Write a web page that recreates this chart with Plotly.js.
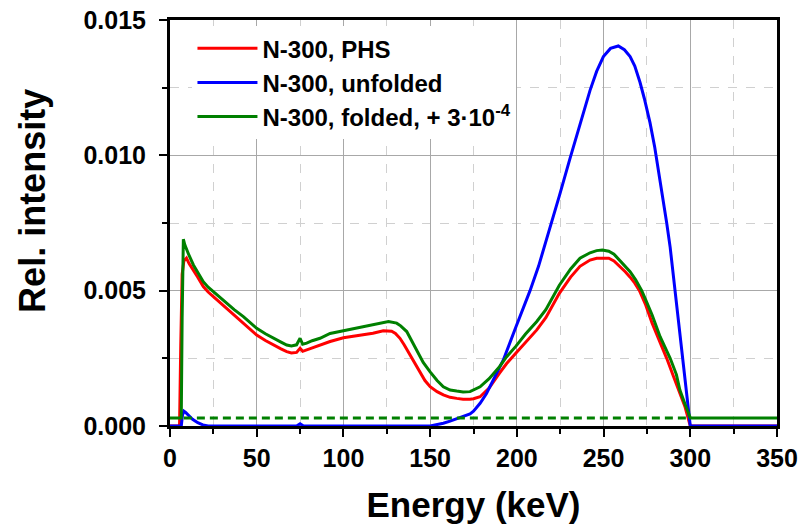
<!DOCTYPE html>
<html>
<head>
<meta charset="utf-8">
<script src="https://cdn.plot.ly/plotly-3.0.1.min.js"></script>
<style>html,body{margin:0;padding:0;background:#fff;}#chart{width:801px;height:531px;}</style>
</head>
<body>
<div id="chart"></div>
<script>
// ---- data ----
const seriesNames = ["N-300, PHS", "N-300, unfolded", "N-300, folded, + 3\u00b710<sup>-4</sup>"];

const phsEnergy = [0, 5.5, 6.2, 7.0, 8.0, 9.5, 11, 13.5, 16, 19.2, 22, 25, 29, 32.7, 37, 42.3, 46, 50, 55, 59.6, 64, 67.3, 70, 73, 75, 76.5, 78.8, 82, 86.5, 92.3, 100, 105, 111.5, 117, 123, 127.8, 130, 132.6, 135, 138.4, 141, 144.2, 147, 150, 154, 157.6, 161.5, 165.3, 169, 173, 175, 178.8, 184, 190, 194, 199.5, 205, 211.5, 216.7, 220, 224.5, 231, 236.4, 242.2, 246, 249.3, 253, 256, 259.5, 262.5, 265.3, 268, 270.7, 274.3, 278, 282.6, 286.4, 290.5, 294, 297, 300, 350];
const phsIntensity = [0, 0, 0.0030, 0.0056, 0.0061, 0.0062, 0.0060, 0.00576, 0.0055, 0.00515, 0.00495, 0.00478, 0.00455, 0.00435, 0.0041, 0.0038, 0.00358, 0.00336, 0.00316, 0.00299, 0.00285, 0.00275, 0.00270, 0.00272, 0.00287, 0.00276, 0.00281, 0.0029, 0.00299, 0.00312, 0.00326, 0.00331, 0.00336, 0.00343, 0.00352, 0.0035, 0.00342, 0.00324, 0.00300, 0.00262, 0.00230, 0.00195, 0.00168, 0.00145, 0.00127, 0.00115, 0.00106, 0.00102, 0.00099, 0.00099, 0.00101, 0.00108, 0.0014, 0.00195, 0.0023, 0.0027, 0.00308, 0.00355, 0.0040, 0.0044, 0.0049, 0.0055, 0.0059, 0.00613, 0.0062, 0.0062, 0.0062, 0.0061, 0.0059, 0.0057, 0.0055, 0.00528, 0.005, 0.00447, 0.0038, 0.0031, 0.0025, 0.0018, 0.00121, 0.0007, 0, 0];

const unfEnergy = [0, 6.5, 7.2, 8, 9, 11, 13, 16, 19, 22, 73, 75, 77, 150, 154, 157.6, 161.5, 165.3, 169, 173, 175, 178.8, 182.5, 186.5, 192.2, 199.5, 203.5, 207.6, 212.5, 217.2, 224.5, 230.7, 234.5, 238.4, 242.2, 246, 249.9, 254, 258.5, 262, 265.3, 268, 271, 273.5, 276.8, 279.5, 282.6, 284.5, 286.4, 288.4, 291.2, 295.7, 299.5, 300, 350];
const unfIntensity = [0, 0, 0.0004, 0.00055, 0.0005, 0.00038, 0.00025, 0.00012, 0.00004, 0, 0, 0.00008, 0, 0, 0.00004, 0.0001, 0.00018, 0.00026, 0.00035, 0.00045, 0.00055, 0.00084, 0.0012, 0.0017, 0.00244, 0.00367, 0.0043, 0.005, 0.0059, 0.0069, 0.0085, 0.0099, 0.0107, 0.01155, 0.0124, 0.0131, 0.01365, 0.01395, 0.01404, 0.0139, 0.01365, 0.0133, 0.0127, 0.0121, 0.0112, 0.0103, 0.0091, 0.0084, 0.0075, 0.0066, 0.005, 0.0025, 0.0002, 0, 0];

const foldEnergy = [0, 6.5, 7.0, 7.7, 8.5, 10, 11, 13.5, 16, 19.2, 22, 25, 29, 32.7, 37, 42.3, 46, 50, 55, 59.6, 64, 67.3, 70, 73, 75, 76.5, 78.8, 82, 86.5, 92.3, 100, 105, 111.5, 117, 123, 126, 130.7, 133, 136.5, 139, 142.3, 146, 150, 154, 157.6, 161.5, 165.3, 169, 173, 178.8, 184, 190, 194, 199.5, 205, 211.5, 216.7, 220, 224.5, 231, 236.4, 242.2, 246, 249.3, 253, 256, 259.5, 262.5, 265.3, 268.5, 272, 274.3, 278, 282.6, 288.4, 292, 294, 297, 300, 350];
const foldIntensity = [0.0003, 0.0003, 0.0040, 0.0069, 0.0067, 0.00645, 0.0063, 0.00595, 0.0057, 0.00533, 0.00513, 0.00496, 0.00473, 0.00453, 0.0043, 0.00404, 0.00382, 0.00361, 0.00341, 0.00324, 0.0031, 0.00299, 0.00296, 0.00300, 0.00324, 0.00302, 0.00306, 0.00315, 0.00324, 0.00342, 0.00352, 0.00358, 0.00367, 0.00374, 0.00382, 0.00386, 0.0038, 0.0037, 0.00349, 0.00320, 0.00281, 0.00235, 0.0020, 0.00168, 0.00145, 0.00133, 0.00129, 0.00126, 0.00127, 0.00145, 0.00175, 0.00219, 0.00255, 0.00295, 0.0034, 0.00386, 0.0043, 0.0047, 0.0052, 0.0058, 0.0062, 0.0064, 0.00648, 0.0065, 0.00646, 0.00635, 0.0061, 0.0059, 0.0057, 0.0054, 0.005, 0.00466, 0.0041, 0.0033, 0.0025, 0.0019, 0.00133, 0.0008, 0.0003, 0.0003];

const offsetEnergy = [8, 300];
const offsetIntensity = [0.0003, 0.0003];

const xTickVals = [0, 50, 100, 150, 200, 250, 300, 350];
const yTickVals = [0, 0.005, 0.010, 0.015];
const xTitle = "Energy (keV)";
const yTitle = "Rel. intensity";

// ---- drawing ----
const FONT = "Arial, 'Liberation Sans', sans-serif";
const colors = ["#ff0000", "#0000ff", "#008000"];

const traces = [
  {x: phsEnergy, y: phsIntensity, name: seriesNames[0], mode: "lines", line: {color: colors[0], width: 3}, cliponaxis: false},
  {x: unfEnergy, y: unfIntensity, name: seriesNames[1], mode: "lines", line: {color: colors[1], width: 3}, cliponaxis: false},
  {x: offsetEnergy, y: offsetIntensity, mode: "lines", showlegend: false, hoverinfo: "skip", line: {color: colors[2], width: 3, dash: "8px,5px"}},
  {x: foldEnergy, y: foldIntensity, name: seriesNames[2], mode: "lines", line: {color: colors[2], width: 3}, cliponaxis: false}
];

const axisCommon = {
  showline: true, linecolor: "#000", linewidth: 3, mirror: true,
  ticks: "outside", ticklen: 8, tickwidth: 2, tickcolor: "#000",
  showgrid: true, gridcolor: "#a8a8a8", gridwidth: 1,
  zeroline: false, layer: "below traces",
  tickfont: {family: FONT, size: 25, color: "#000", weight: "bold"}
};

const layout = {
  width: 801, height: 531,
  margin: {l: 170, r: 24, t: 20, b: 105},
  paper_bgcolor: "#fff", plot_bgcolor: "#fff",
  showlegend: true,
  xaxis: Object.assign({}, axisCommon, {
    range: [0, 350], tickvals: xTickVals, ticklabelstandoff: 0,
    minor: {dtick: 25, tick0: 0, ticks: "outside", ticklen: 5, tickwidth: 2, tickcolor: "#000", showgrid: true, gridcolor: "#d0d0d0", griddash: "dash", gridwidth: 1},
    title: {text: xTitle, font: {family: FONT, size: 35, color: "#000", weight: "bold"}, standoff: 22}
  }),
  yaxis: Object.assign({}, axisCommon, {
    range: [0, 0.015], tickvals: yTickVals, tickformat: ".3f", ticklabelstandoff: 8,
    minor: {dtick: 0.0025, tick0: 0, ticks: "outside", ticklen: 5, tickwidth: 2, tickcolor: "#000", showgrid: true, gridcolor: "#d0d0d0", griddash: "dash", gridwidth: 1}
  }),
  annotations: [{
    text: yTitle, xref: "paper", yref: "paper", x: -0.227, y: 0.555,
    xanchor: "center", yanchor: "middle", textangle: -90, showarrow: false,
    font: {family: FONT, size: 36, color: "#000", weight: "bold"}
  }],
  legend: {
    x: 0.037, y: 0.985, xanchor: "left", yanchor: "top",
    bgcolor: "#fff", borderwidth: 0,
    font: {family: FONT, size: 24, color: "#000", weight: "bold"},
    tracegroupgap: 0, itemwidth: 60
  }
};

Plotly.newPlot("chart", traces, layout, {displayModeBar: false, staticPlot: true});
</script>
</body>
</html>
